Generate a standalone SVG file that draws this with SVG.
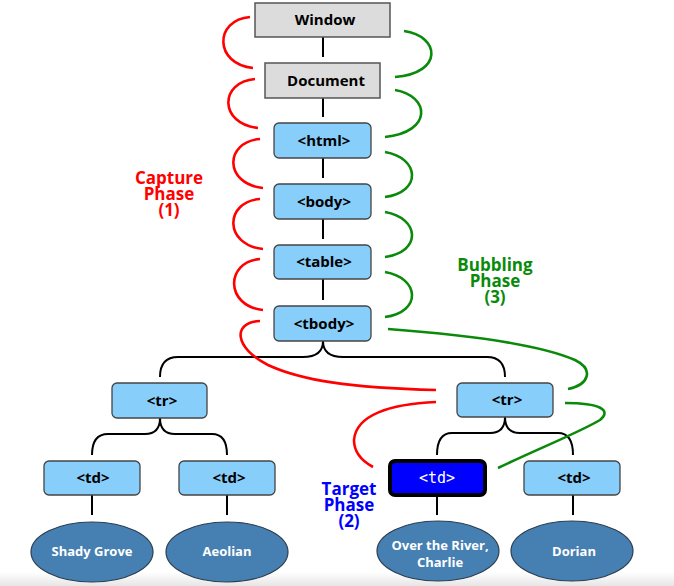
<svg xmlns="http://www.w3.org/2000/svg" width="674" height="586" viewBox="0 0 674 586">
<defs>
<linearGradient id="fade" x1="0" y1="0" x2="0" y2="1">
<stop offset="0" stop-color="#ffffff"/>
<stop offset="1" stop-color="#e6e6e6"/>
</linearGradient>
<style>
text{font-family:"Open Sans","Noto Sans","DejaVu Sans",sans-serif;font-weight:bold;text-anchor:middle}
.gray{fill:#dcdcdc;stroke:#555;stroke-width:1.5}
.blue{fill:#87cefa;stroke:#444;stroke-width:1.3}
.target{fill:#0000ff;stroke:#000;stroke-width:4}
.leaf{fill:#4680b2;stroke:#2c3e50;stroke-width:1.2}
.nt{font-size:15px;fill:#000}
.lt{font-size:13px;fill:#fff}
.tt{font-family:"DejaVu Sans Mono","Liberation Mono",monospace;font-weight:normal;font-size:15px;fill:#fff}
.edge{fill:none;stroke:#000;stroke-width:2}
.cap{fill:none;stroke:#ff0000;stroke-width:2.6}
.bub{fill:none;stroke:#0a8a0a;stroke-width:2.6}
.lab{font-size:17px}
</style>
</defs>
<rect x="0" y="572" width="674" height="14" fill="url(#fade)"/>
<g id="connectors">
<path class="edge" d="M323,37 V57 M323,98 V117 M323,158 V178 M323,219 V239 M323,279 V300"/>
<path class="edge" d="M323,341 Q323,357 303,357 L178,357 Q160,357 160,377 M323,341 Q323,357 343,357 L487,357 Q505,357 505,377"/>
<path class="edge" d="M160,418 Q160,434 145,434 L108,434 Q92,434 92,455 M160,418 Q160,434 175,434 L212,434 Q227,434 227,455"/>
<path class="edge" d="M505,417 Q505,433 490,433 L452,433 Q437,433 437,455 M505,417 Q505,433 520,433 L558,433 Q573,433 573,455"/>
<path class="edge" d="M92,495 V515 M227,495 V515 M437,497 V515 M573,495 V515"/>
</g>
<g id="capture-arcs">
<path class="cap" d="M250,17 C214,20 214,64 253,68"/>
<path class="cap" d="M255,79 C219,82 219,124 258,128"/>
<path class="cap" d="M260,139 C224,142 224,184 263,188"/>
<path class="cap" d="M260,199 C224,202 224,245 263,249"/>
<path class="cap" d="M260,259 C225,262 225,306 263,310"/>
<path class="cap" d="M260,321 C232,322 234,348 268,365 C300,380 350,388 436,390"/>
<path class="cap" d="M436,402 C390,404 356,415 354,440 C354,452 362,461 373,467"/>
</g>
<g id="bubble-arcs">
<path class="bub" d="M404,31 C440,36 444,73 395,77"/>
<path class="bub" d="M395,90 C430,96 433,132 385,137"/>
<path class="bub" d="M385,152 C420,158 422,192 385,197"/>
<path class="bub" d="M385,212 C420,218 422,252 385,257"/>
<path class="bub" d="M385,272 C420,278 422,312 385,317"/>
<path class="bub" d="M388,329 C470,335 540,345 575,360 C595,370 588,385 568,389"/>
<path class="bub" d="M498,468 C540,448 580,432 600,420 C612,410 600,403 565,403"/>
</g>
<g id="window"><rect class="gray" x="255" y="3" width="135" height="34"/><text class="nt" x="325" y="25">Window</text></g>
<g id="document"><rect class="gray" x="265" y="63" width="115" height="35"/><text class="nt" x="326" y="86">Document</text></g>
<g id="html"><rect class="blue" x="274" y="123" width="97" height="35" rx="5"/><text class="nt" x="324" y="146">&lt;html&gt;</text></g>
<g id="body"><rect class="blue" x="274" y="184" width="97" height="35" rx="5"/><text class="nt" x="324" y="207">&lt;body&gt;</text></g>
<g id="table"><rect class="blue" x="274" y="245" width="97" height="34" rx="5"/><text class="nt" x="324" y="267">&lt;table&gt;</text></g>
<g id="tbody"><rect class="blue" x="274" y="306" width="97" height="35" rx="5"/><text class="nt" x="324" y="329">&lt;tbody&gt;</text></g>
<g id="tr1"><rect class="blue" x="112" y="383" width="95" height="35" rx="5"/><text class="nt" x="162" y="406">&lt;tr&gt;</text></g>
<g id="tr2"><rect class="blue" x="457" y="383" width="96" height="34" rx="5"/><text class="nt" x="507" y="405">&lt;tr&gt;</text></g>
<g id="td1"><rect class="blue" x="44" y="461" width="96" height="34" rx="5"/><text class="nt" x="93" y="483">&lt;td&gt;</text></g>
<g id="td2"><rect class="blue" x="179" y="461" width="96" height="34" rx="5"/><text class="nt" x="229" y="483">&lt;td&gt;</text></g>
<g id="td-target"><rect class="target" x="390" y="461" width="95" height="34" rx="5"/><text class="tt" x="437" y="483">&lt;td&gt;</text></g>
<g id="td4"><rect class="blue" x="524" y="461" width="96" height="34" rx="5"/><text class="nt" x="574" y="483">&lt;td&gt;</text></g>
<g id="leaf1"><ellipse class="leaf" cx="92" cy="552" rx="61" ry="30"/><text class="lt" x="92" y="556">Shady Grove</text></g>
<g id="leaf2"><ellipse class="leaf" cx="227" cy="552" rx="61" ry="30"/><text class="lt" x="227" y="556">Aeolian</text></g>
<g id="leaf3"><ellipse class="leaf" cx="438" cy="551" rx="61" ry="30"/><text class="lt" x="440" y="550">Over the River,</text><text class="lt" x="440" y="567">Charlie</text></g>
<g id="leaf4"><ellipse class="leaf" cx="572" cy="551" rx="61" ry="30"/><text class="lt" x="574" y="556">Dorian</text></g>
<g id="capture-label"><text class="lab" x="169" y="184" fill="#ff0000">Capture</text><text class="lab" x="169" y="200" fill="#ff0000">Phase</text><text class="lab" x="169" y="216" fill="#ff0000">(1)</text></g>
<g id="bubbling-label"><text class="lab" x="495" y="271" fill="#0a8a0a">Bubbling</text><text class="lab" x="495" y="287" fill="#0a8a0a">Phase</text><text class="lab" x="495" y="303" fill="#0a8a0a">(3)</text></g>
<g id="target-label"><text class="lab" x="349" y="495" fill="#0000ff">Target</text><text class="lab" x="349" y="511" fill="#0000ff">Phase</text><text class="lab" x="349" y="527" fill="#0000ff">(2)</text></g>
</svg>
